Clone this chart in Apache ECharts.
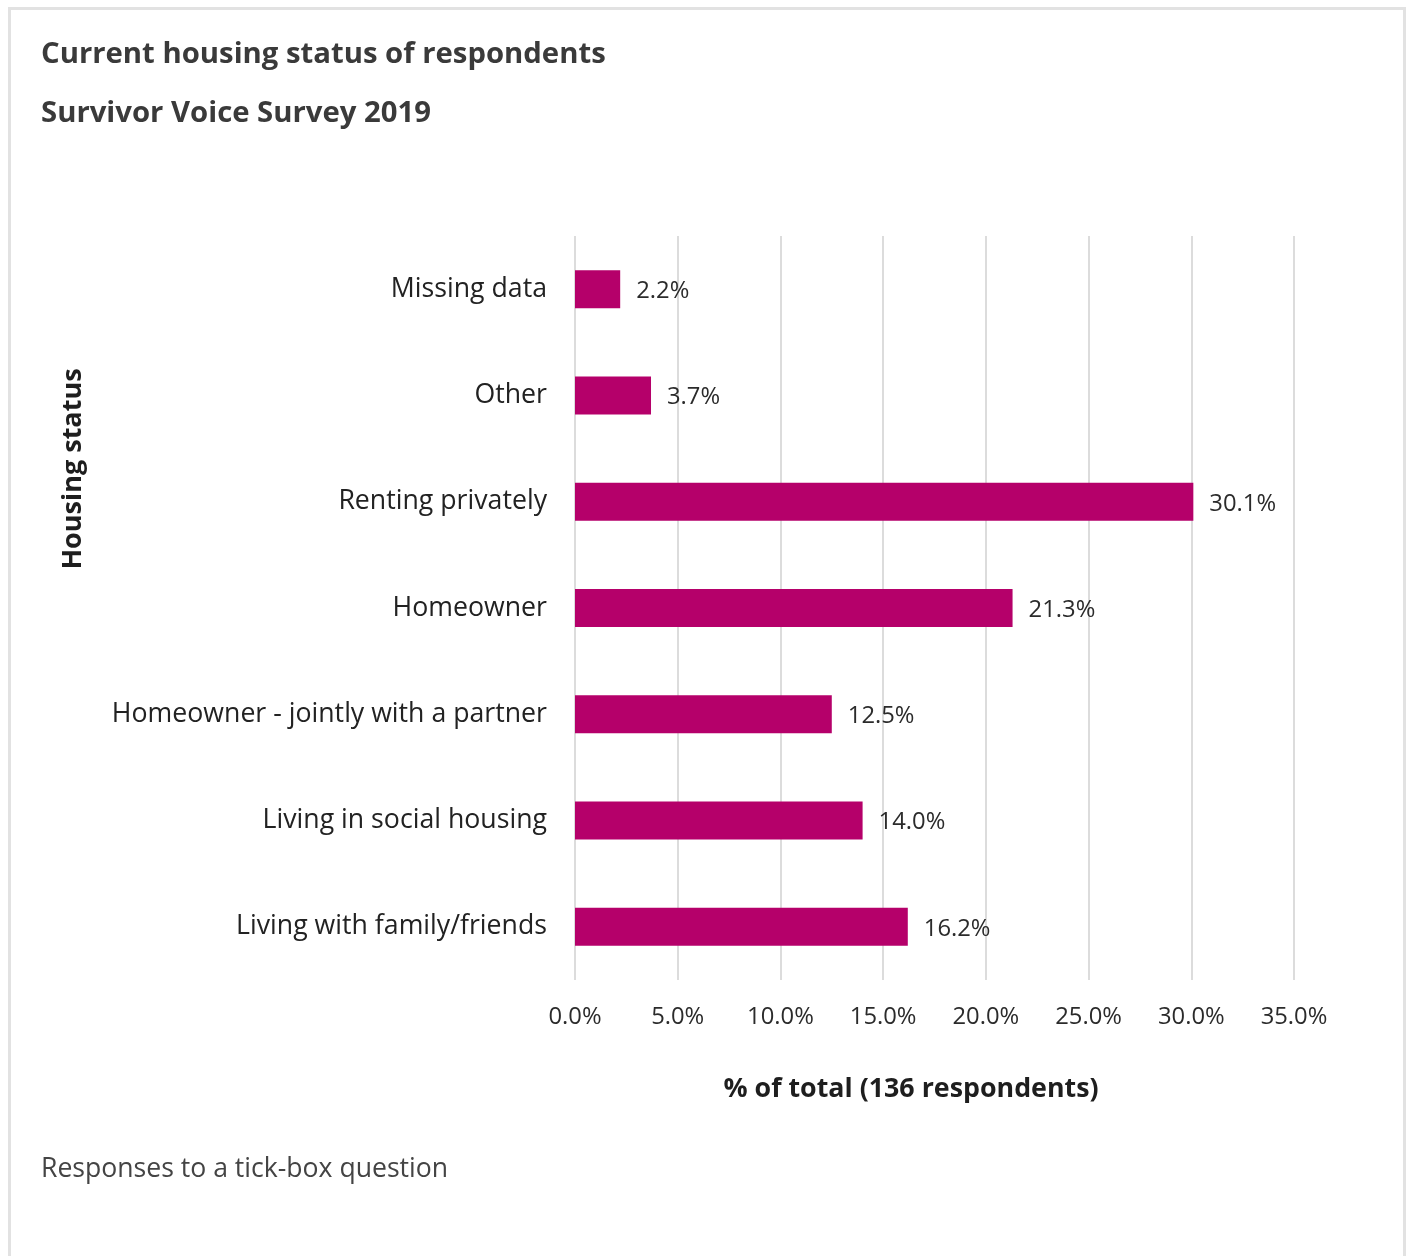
<!DOCTYPE html>
<html>
<head>
<meta charset="utf-8">
<script src="https://cdn.jsdelivr.net/npm/echarts@6/dist/echarts.min.js"></script>
<style>
  html, body { margin: 0; padding: 0; background: #ffffff; }
  #chart { width: 1410px; height: 1256px; }
</style>
</head>
<body>
<div id="chart"></div>
<script>
// Housing status categories, listed top to bottom
const categories = [
  'Missing data',
  'Other',
  'Renting privately',
  'Homeowner',
  'Homeowner - jointly with a partner',
  'Living in social housing',
  'Living with family/friends'
];
// Share of respondents (%)
const shares = [2.2, 3.7, 30.1, 21.3, 12.5, 14.0, 16.2];
const axisMax = 35;
const axisStep = 5;

const FONT = '"Open Sans", "Noto Sans", sans-serif';
const chart = echarts.init(document.getElementById('chart'), null, { renderer: 'canvas' });

chart.setOption({
  backgroundColor: '#ffffff',
  animation: false,
  textStyle: { fontFamily: FONT },
  grid: { left: 575, right: 116, top: 236, bottom: 276, containLabel: false },
  xAxis: {
    type: 'value',
    min: 0,
    max: axisMax,
    interval: axisStep,
    axisLine: { show: false },
    axisTick: { show: false },
    splitLine: { show: true, lineStyle: { color: '#dcdcdc', width: 2 } },
    axisLabel: {
      margin: 25,
      fontSize: 23.8,
      color: '#2b2b2b',
      fontFamily: FONT,
      formatter: v => v.toFixed(1) + '%'
    }
  },
  yAxis: {
    type: 'category',
    data: categories,
    inverse: true,
    axisLine: { show: false },
    axisTick: { show: false },
    splitLine: { show: false },
    axisLabel: { margin: 28, fontSize: 26.7, color: '#222222', fontFamily: FONT }
  },
  series: [{
    type: 'bar',
    data: shares,
    barWidth: 38,
    itemStyle: { color: '#b5006a' },
    label: {
      show: true,
      position: 'right',
      distance: 16,
      offset: [0, 2],
      fontSize: 23.8,
      color: '#2b2b2b',
      fontFamily: FONT,
      formatter: p => p.value.toFixed(1) + '%'
    }
  }],
  graphic: [
    {
      type: 'rect',
      shape: { x: 9.5, y: 8.5, width: 1395, height: 1320 },
      style: { fill: 'none', stroke: '#e2e2e2', lineWidth: 3 },
      silent: true
    },
    {
      type: 'text', x: 41, y: 55,
      style: { text: 'Current housing status of respondents', font: 'bold 29.3px ' + FONT, fill: '#3a3a3a', verticalAlign: 'middle' }
    },
    {
      type: 'text', x: 41, y: 114,
      style: { text: 'Survivor Voice Survey 2019', font: 'bold 29.3px ' + FONT, fill: '#3a3a3a', verticalAlign: 'middle' }
    },
    {
      type: 'text', x: 911, y: 1089,
      style: { text: '% of total (136 respondents)', font: 'bold 26.8px ' + FONT, fill: '#1e1e1e', align: 'center', verticalAlign: 'middle' }
    },
    {
      type: 'text', x: 73, y: 469, rotation: Math.PI / 2,
      style: { text: 'Housing status', font: 'bold 27px ' + FONT, fill: '#1e1e1e', align: 'center', verticalAlign: 'middle' }
    },
    {
      type: 'text', x: 41, y: 1169,
      style: { text: 'Responses to a tick-box question', font: '26.6px ' + FONT, fill: '#444444', verticalAlign: 'middle' }
    }
  ]
});
</script>
</body>
</html>
